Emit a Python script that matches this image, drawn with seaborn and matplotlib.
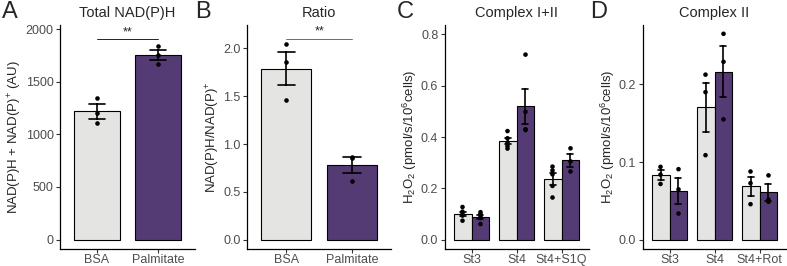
import numpy as np
import pandas as pd
import seaborn as sns
import matplotlib
matplotlib.use("Agg")
import matplotlib.pyplot as plt

# ---- data (individual replicates) ----
groups_ab = ["BSA", "Palmitate"]
total_bsa = [1351, 1203, 1104]
total_palm = [1841, 1756, 1668]
ratio_bsa = [2.04, 1.86, 1.46]
ratio_palm = [0.87, 0.85, 0.61]

states_c = ["St3", "St4", "St4+S1Q"]
c_bsa = [[0.128, 0.110, 0.100, 0.095, 0.075],
         [0.423, 0.395, 0.378, 0.365, 0.355],
         [0.285, 0.270, 0.255, 0.210, 0.165]]
c_palm = [[0.108, 0.100, 0.092, 0.085, 0.062],
          [0.720, 0.498, 0.430, 0.427],
          [0.356, 0.305, 0.266]]

states_d = ["St3", "St4", "St4+Rot"]
d_bsa = [[0.094, 0.084, 0.072],
         [0.2125, 0.190, 0.109],
         [0.088, 0.073, 0.046]]
d_palm = [[0.091, 0.065, 0.034],
          [0.265, 0.229, 0.155],
          [0.083, 0.052, 0.049]]

sig_total = 1905
sig_ratio = 2.10

colors = {"BSA": "#E4E4E2", "Palmitate": "#54317E"}

sns.set_theme(style="ticks")
plt.rcParams["font.family"] = ["Liberation Sans", "DejaVu Sans"]
plt.rcParams["mathtext.fontset"] = "custom"
plt.rcParams["mathtext.rm"] = "Liberation Sans"
plt.rcParams["mathtext.it"] = "Liberation Sans:italic"
plt.rcParams["mathtext.bf"] = "Liberation Sans:bold"


def long_two(bsa, palm):
    return pd.DataFrame({"group": ["BSA"] * len(bsa) + ["Palmitate"] * len(palm),
                         "value": bsa + palm})


def long_states(states, bsa, palm):
    rows = []
    for s, b, p in zip(states, bsa, palm):
        rows += [(s, "BSA", v) for v in b]
        rows += [(s, "Palmitate", v) for v in p]
    return pd.DataFrame(rows, columns=["state", "group", "value"])


W, H = 787, 266
fig = plt.figure(figsize=(W / 100, H / 100), dpi=100)
ax_bottom, ax_top = 249, 25


def make_ax(left, right):
    return fig.add_axes([left / W, (H - ax_bottom) / H, (right - left) / W,
                         (ax_bottom - ax_top) / H])


axA = make_ax(60, 195)
axB = make_ax(247, 391.5)
axC = make_ax(444.5, 588.5)
axD = make_ax(642.5, 786.5)

bar_kw = dict(errorbar="se", edgecolor="black", linewidth=0.8, width=0.76,
              err_kws={"color": "black", "linewidth": 1.2}, legend=False)
pt_kw = dict(jitter=False, size=3.3, legend=False)

# A / B
for ax, bsa, palm in [(axA, total_bsa, total_palm), (axB, ratio_bsa, ratio_palm)]:
    df = long_two(bsa, palm)
    sns.barplot(data=df, x="group", y="value", hue="group", order=groups_ab,
                hue_order=groups_ab, palette=colors, capsize=0.27, ax=ax, **bar_kw)
    sns.stripplot(data=df, x="group", y="value", order=groups_ab, color="black",
                  ax=ax, **pt_kw)
    ax.set_xlim(-0.6, 1.6)

# C / D
for ax, states, bsa, palm in [(axC, states_c, c_bsa, c_palm), (axD, states_d, d_bsa, d_palm)]:
    df = long_states(states, bsa, palm)
    sns.barplot(data=df, x="state", y="value", hue="group", order=states,
                hue_order=groups_ab, palette=colors, capsize=0.3, ax=ax, **bar_kw)
    sns.stripplot(data=df, x="state", y="value", hue="group", order=states,
                  hue_order=groups_ab, palette=["black", "black"], dodge=True,
                  ax=ax, **pt_kw)
    ax.set_xlim(-0.6, 2.6)

axA.set_ylim(-90, 2041)
axA.set_yticks([0, 500, 1000, 1500, 2000])
axB.set_ylim(-0.095, 2.243)
axB.set_yticks([0.0, 0.5, 1.0, 1.5, 2.0])
axB.set_yticklabels(["0.0", "0.5", "1.0", "1.5", "2.0"])
axC.set_ylim(-0.035, 0.835)
axC.set_yticks([0.0, 0.2, 0.4, 0.6, 0.8])
axC.set_yticklabels(["0.0", "0.2", "0.4", "0.6", "0.8"])
axD.set_ylim(-0.0116, 0.2763)
axD.set_yticks([0.0, 0.1, 0.2])
axD.set_yticklabels(["0.0", "0.1", "0.2"])

# significance brackets
axA.plot([0, 1], [sig_total, sig_total], color="black", lw=0.6)
axA.text(0.5, sig_total + 10, "**", ha="center", va="bottom", fontsize=9)
axB.plot([0, 1], [sig_ratio, sig_ratio], color="#555555", lw=0.6)
axB.text(0.5, sig_ratio + 0.01, "**", ha="center", va="bottom", fontsize=9)

titles = ["Total NAD(P)H", "Ratio", "Complex I+II", "Complex II"]
ylabels = [r"NAD(P)H + NAD(P)$^{+}$ (AU)",
           r"NAD(P)H/NAD(P)$^{+}$",
           r"H$_2$O$_2$ (pmol/s/10$^6$cells)",
           r"H$_2$O$_2$ (pmol/s/10$^6$cells)"]
for ax, t, yl in zip([axA, axB, axC, axD], titles, ylabels):
    ax.set_title(t, fontsize=10.5, pad=6)
    ax.set_xlabel("")
    ax.set_ylabel(yl, fontsize=9.5, labelpad=1)
    sns.despine(ax=ax)
    for s in ["left", "bottom"]:
        ax.spines[s].set_linewidth(0.9)
        ax.spines[s].set_color("black")
    ax.tick_params(length=3, width=0.8, color="#333333", labelcolor="#4D4D4D",
                   labelsize=9, pad=1.5)
    ax.tick_params(axis="x", pad=0.5)

# panel letters
for letter, x in zip("ABCD", [2, 195, 397, 590]):
    fig.text(x / W, 1 - 1 / H, letter, fontsize=17, ha="left", va="top")

fig.savefig("out.png", dpi=100)
